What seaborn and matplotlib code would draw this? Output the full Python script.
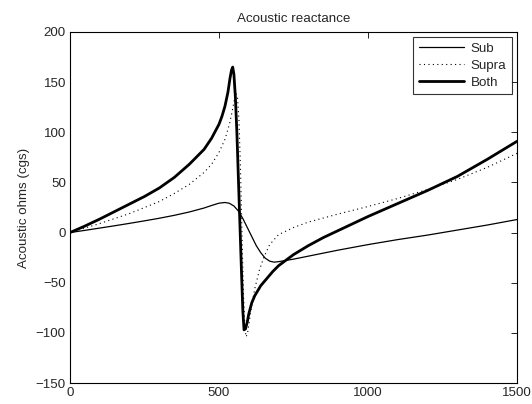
import matplotlib
matplotlib.use("Agg")
import matplotlib.pyplot as plt
import seaborn as sns
import pandas as pd

# Frequencies (Hz) and acoustic reactance
sub_f = [0, 50, 100, 150, 200, 250, 300, 350, 400, 450, 475, 500, 520, 535, 550,
         565, 580, 595, 610, 625, 640, 655, 670, 685, 700, 750, 800, 900, 1000,
         1100, 1200, 1300, 1400, 1500]
sub_x = [0, 2.2, 4.5, 6.8, 9.2, 11.7, 14.3, 17.2, 20.5, 24.5, 27, 29.3, 30, 29.2, 26.5,
         21.5, 14, 5, -4, -13, -20, -25.5, -28.5, -29.5, -29, -26.5, -23.5, -17.5, -12,
         -7, -2.5, 2.5, 7.5, 13]

supra_f = [0, 50, 100, 150, 200, 250, 300, 350, 400, 450, 475, 500, 520, 535, 545,
           552, 557, 562, 567, 572, 577, 582, 587, 591, 596, 602, 610, 620, 635,
           650, 670, 700, 750, 800, 900, 1000, 1100, 1200, 1300, 1400, 1500]
supra_x = [0, 4.5, 9, 14, 19, 25, 31, 39, 48, 60, 68, 80, 93, 108, 122,
           133, 139, 135, 112, 65, 0, -60, -95, -104, -100, -88, -72, -56, -38,
           -25, -12, -2, 5, 10.5, 18.5, 26, 34, 43, 53, 65, 79]

both_f = [0, 50, 100, 150, 200, 250, 300, 350, 400, 450, 475, 500, 510, 520, 530,
          537, 542, 546, 550, 555, 560, 565, 570, 575, 580, 584, 589, 595, 600,
          610, 620, 640, 660, 680, 700, 750, 800, 850, 900, 950, 1000, 1100, 1200,
          1300, 1400, 1500]
both_x = [0, 6.5, 13.5, 21, 28.5, 36, 44.5, 55, 68, 83, 94, 108, 116, 126, 140,
          154, 162, 165, 158, 135, 100, 55, 10, -35, -78, -97, -96, -89, -81,
          -70, -63, -53, -46, -39, -33, -22, -13, -5, 2, 9, 16, 29, 42,
          56, 73, 91]

series_names = ["Sub", "Supra", "Both"]
title = "Acoustic reactance"
ylabel = "Acoustic ohms (cgs)"
xticks = [0, 500, 1000, 1500]
yticks = [-150, -100, -50, 0, 50, 100, 150, 200]

sns.set_style("white")
plt.rcParams["font.family"] = ["Liberation Sans", "DejaVu Sans"]
fs = 9.6

fig = plt.figure(figsize=(5.32, 4.04), dpi=100)
ax = fig.add_axes([70 / 532, 21 / 404, 447 / 532, 351 / 404])

df_sub = pd.DataFrame({"f": sub_f, "x": sub_x})
df_supra = pd.DataFrame({"f": supra_f, "x": supra_x})
df_both = pd.DataFrame({"f": both_f, "x": both_x})

sns.lineplot(data=df_sub, x="f", y="x", ax=ax, color="black", lw=0.9,
             label=series_names[0], sort=False, solid_joinstyle="round")
sns.lineplot(data=df_supra, x="f", y="x", ax=ax, color="black", lw=0.8,
             linestyle=(0, (1, 3)), label=series_names[1], sort=False)
sns.lineplot(data=df_both, x="f", y="x", ax=ax, color="black", lw=2.0,
             label=series_names[2], sort=False, solid_joinstyle="round")

ax.set_xlim(0, 1500)
ax.set_ylim(-150, 200)
ax.set_xticks(xticks)
ax.set_yticks(yticks)
ax.set_xticklabels([str(t) for t in xticks], fontsize=fs)
ax.set_yticklabels([str(t).replace("-", "\u2212") for t in yticks], fontsize=fs)
ax.tick_params(direction="in", top=True, right=True, length=4, width=0.6,
               color="black", pad=3)
for s in ax.spines.values():
    s.set_visible(True)
    s.set_color("black")
    s.set_linewidth(0.8)
ax.set_xlabel("")
ax.set_ylabel(ylabel, fontsize=fs, labelpad=4)
ax.set_title(title, fontsize=fs, pad=7)

leg = ax.legend(loc="upper right", fontsize=fs, frameon=True, fancybox=False,
                edgecolor="black", handlelength=3.4, handletextpad=0.5,
                borderpad=0.4, labelspacing=0.35, borderaxespad=0.4)
leg.get_frame().set_linewidth(0.8)

fig.savefig("out.png", dpi=100)
